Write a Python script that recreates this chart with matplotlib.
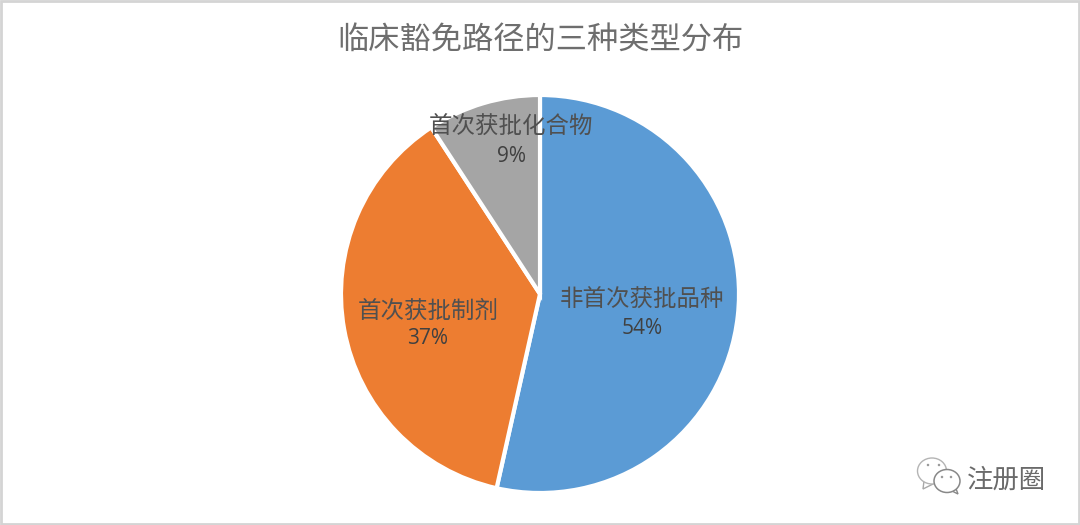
import matplotlib.pyplot as plt
from matplotlib.patches import Ellipse, Rectangle, Polygon

plt.rcParams['font.family'] = ['Noto Sans CJK SC', 'DejaVu Sans']

title = '临床豁免路径的三种类型分布'
labels = ['非首次获批品种', '首次获批制剂', '首次获批化合物']
# slice sizes, printed labels are rounded
values = [53.5, 37.3, 9.2]
pct_labels = ['54%', '37%', '9%']
colors = ['#5B9BD5', '#ED7D31', '#A5A5A5']
watermark = '注册圈'

W, H = 1080, 525
fig = plt.figure(figsize=(W / 100, H / 100), dpi=100)
ax = fig.add_axes([0, 0, 1, 1])
ax.set_xlim(0, W)
ax.set_ylim(H, 0)
ax.axis('off')

# outer border of the screenshot
ax.add_patch(Rectangle((1, 1), W - 2, H - 2, fc='white', ec='#d4d4d4', lw=2))

# pie in its own axes, centred on the picture's circle
cx, cy, r = 540, 294, 199
pie_ax = fig.add_axes([(cx - r) / W, 1 - (cy + r) / H, 2 * r / W, 2 * r / H])
pie_ax.pie(values, colors=colors, startangle=90, counterclock=False, radius=1,
           wedgeprops=dict(edgecolor='white', linewidth=3))
pie_ax.set_xlim(-1, 1)
pie_ax.set_ylim(-1, 1)

fig.text(540 / W, 1 - 41 / H, title, fontsize=22.5, color='#6e6e6e', ha='center', va='center', weight='light')

text_pos = [(642, 300, 328), (428, 311, 339), (511, 127, 156)]
for (x, y1, y2), lab, pct in zip(text_pos, labels, pct_labels):
    fig.text(x / W, 1 - y1 / H, lab, fontsize=16.9, color='#505050', ha='center', va='center', weight='light')
    fig.text(x / W, 1 - y2 / H, pct, fontsize=15, color='#404040', ha='center', va='center',
             family=['Open Sans', 'DejaVu Sans'])

# wechat style watermark
overlay = fig.add_axes([0, 0, 1, 1], facecolor='none')
overlay.set_xlim(0, W)
overlay.set_ylim(H, 0)
overlay.axis('off')
overlay.add_patch(Polygon([(924, 481), (923, 489), (933, 484)], fc='white', ec='#a8a8a8', lw=1))
overlay.add_patch(Ellipse((932, 471), 29, 26, fc='white', ec='#b4b4b4', lw=1))
overlay.add_patch(Polygon([(950, 490), (958, 494), (955, 486)], fc='white', ec='#888888', lw=1))
overlay.add_patch(Ellipse((947, 481), 26, 23, fc='white', ec='#888888', lw=1.1))
for ex, ey in [(928, 465), (939, 465), (942, 477), (951, 477)]:
    overlay.add_patch(Ellipse((ex, ey), 2.5, 2.5, fc='#999999', ec='none'))
overlay.text(1006, 480, watermark, fontsize=19, color='#6a6a6a', ha='center', va='center', weight='light')

fig.savefig('out.png', dpi=100)
